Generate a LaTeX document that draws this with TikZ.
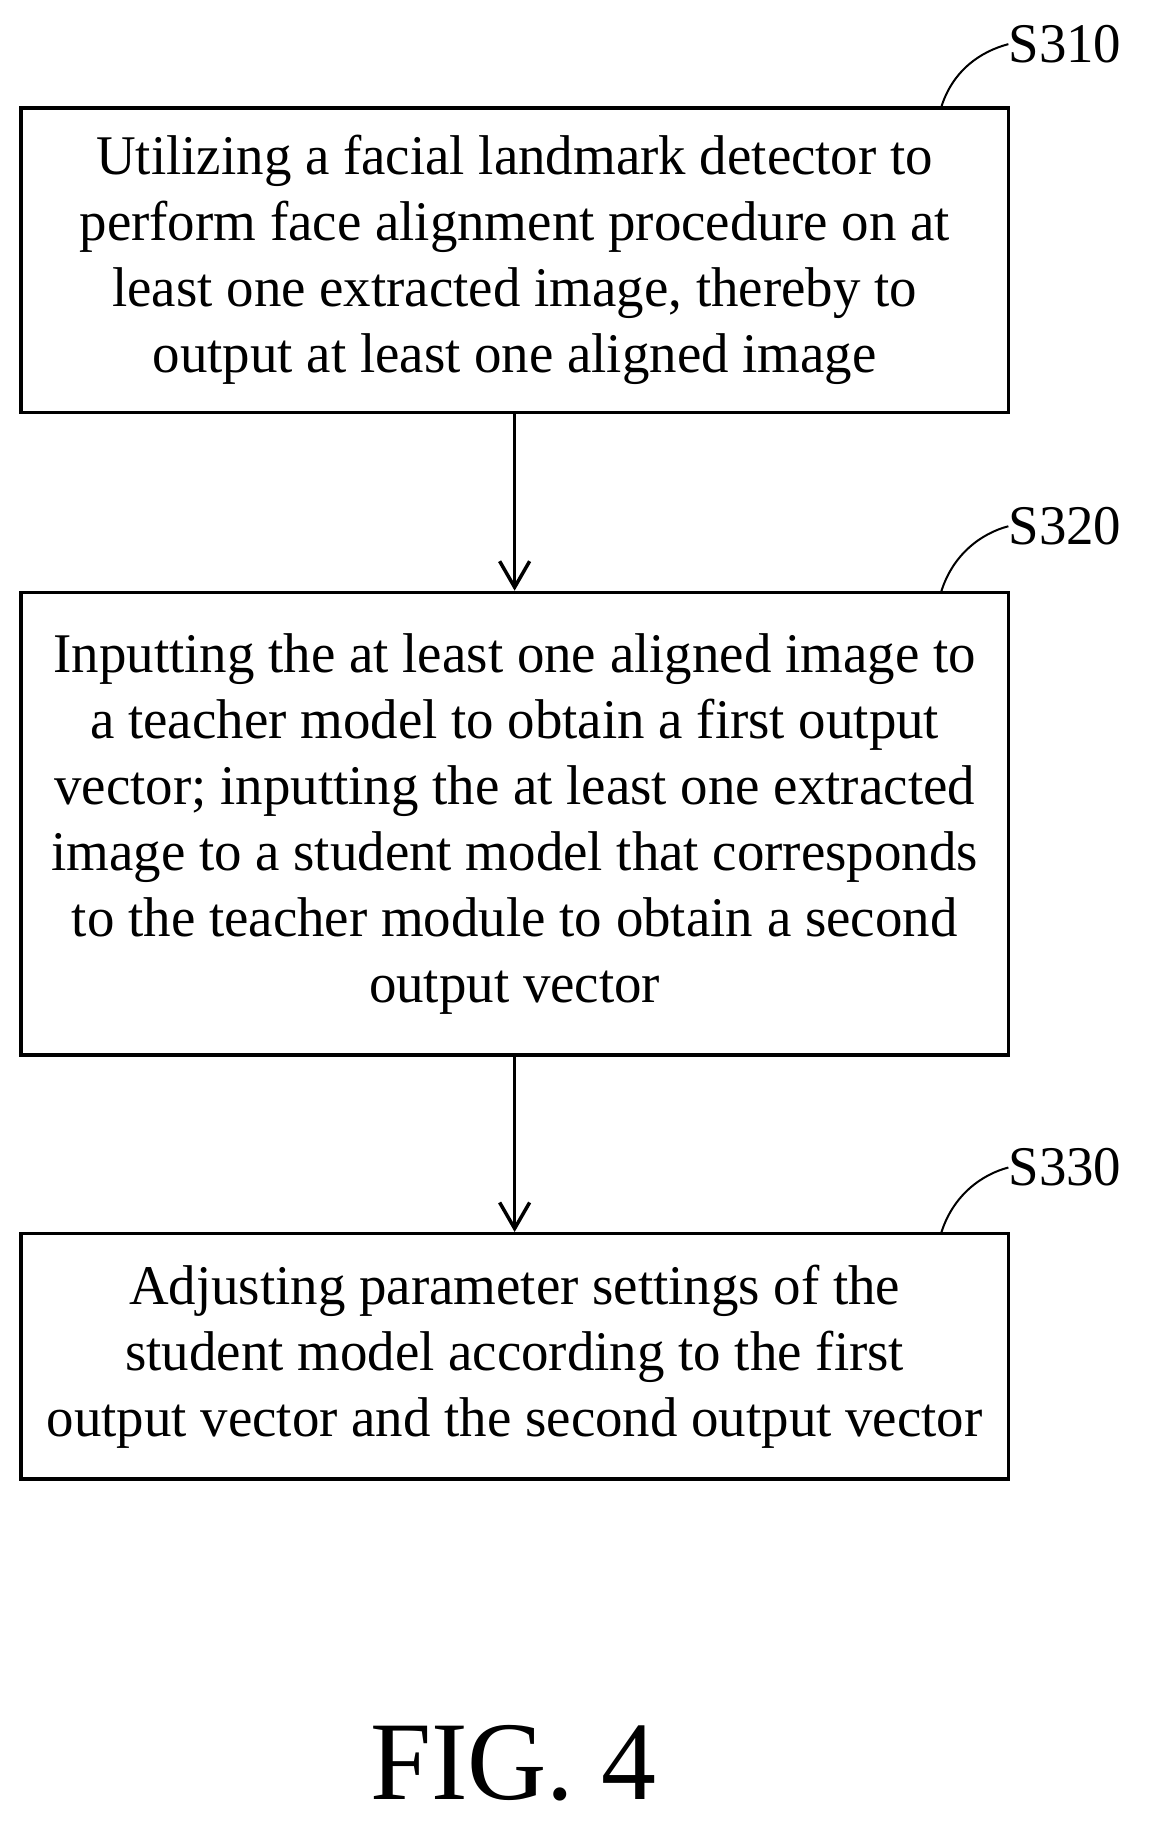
\documentclass[tikz,border=0pt]{standalone}
\usepackage{fontspec}
\setmainfont[FakeStretch=0.98]{Liberation Serif}
\usetikzlibrary{arrows.meta}
\begin{document}
\begin{tikzpicture}[x=1.1616pt,y=-1.1616pt,
  box/.style={draw,line width=3.5pt,minimum width=850*1.1616pt,align=center,
    font=\fontsize{56}{66}\selectfont,inner sep=0pt},
  lbl/.style={font=\fontsize{56}{60}\selectfont,anchor=west,inner sep=0pt},
  conn/.style={line width=3.5pt,-{Straight Barb[length=26pt,width=30pt,line width=3.5pt]}},
  lead/.style={line width=2pt}]
\useasboundingbox (0,0) rectangle (990,1577);
\node[box,minimum height=262*1.1616pt] (b1) at (443,224)
 {Utilizing a facial landmark detector to\\perform face alignment procedure on at\\least one extracted image, thereby to\\output at least one aligned image};
\node[box,minimum height=398*1.1616pt] (b2) at (443,709)
 {Inputting the at least one aligned image to\\a teacher model to obtain a first output\\vector; inputting the at least one extracted\\image to a student model that corresponds\\to the teacher module to obtain a second\\output vector};
\node[box,minimum height=211*1.1616pt] (b3) at (443,1167.5)
 {Adjusting parameter settings of the\\student model according to the first\\output vector and the second output vector};
\draw[conn] (b1.south) -- (b2.north);
\draw[conn] (b2.south) -- (b3.north);
\node[lbl] (l1) at (868,38) {S310};
\node[lbl] (l2) at (868,453) {S320};
\node[lbl] (l3) at (868,1005) {S330};
\coordinate (c1) at (810,93);
\coordinate (c2) at (810,510);
\coordinate (c3) at (810,1062);
\draw[lead] (c1) .. controls (820,60) and (845,44) .. (l1.west);
\draw[lead] (c2) .. controls (820,477) and (845,459) .. (l2.west);
\draw[lead] (c3) .. controls (820,1029) and (845,1011) .. (l3.west);
\node[font=\fontsize{112}{120}\selectfont,inner sep=0pt] (fig) at (442,1518) {FIG. 4};
\end{tikzpicture}
\end{document}
